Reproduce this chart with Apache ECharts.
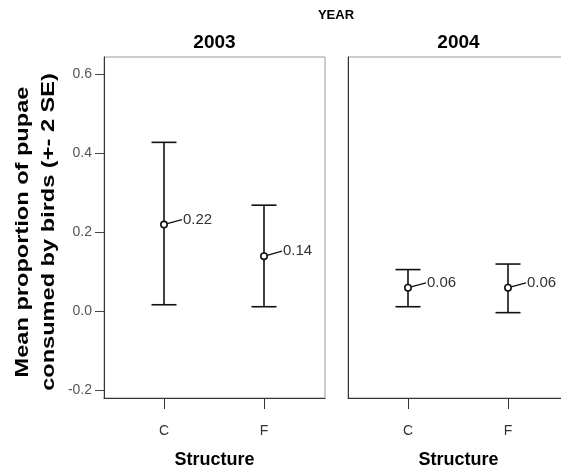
<!DOCTYPE html>
<html>
<head>
<meta charset="utf-8">
<title>Pupae consumed by birds</title>
<script src="https://cdn.jsdelivr.net/npm/echarts@6/dist/echarts.min.js"></script>
<style>
  html, body { margin: 0; padding: 0; background: #fff; }
  #chart { width: 561px; height: 469px; }
</style>
</head>
<body>
<div id="chart"></div>
<script>
// Panels (one per year) and the structure categories on each x axis
const years = ['2003', '2004'];
const structures = ['C', 'F'];

// Mean proportion of pupae consumed, with the +/- 2 SE limits
const means2003 = [0.22, 0.14];
const lower2003 = [0.017, 0.012];
const upper2003 = [0.428, 0.269];

const means2004 = [0.06, 0.06];
const lower2004 = [0.012, -0.003];
const upper2004 = [0.106, 0.120];

// Y axis tick values
const yTicks = [-0.2, 0.0, 0.2, 0.4, 0.6];

const FONT = '"Liberation Sans", Arial, sans-serif';
const INK = '#111';

function rows(means, lower, upper) {
  return structures.map((s, i) => [i + 1, lower[i], upper[i], means[i]]);
}

function renderBar(params, api) {
  const x = api.value(0), lo = api.value(1), hi = api.value(2), m = api.value(3);
  const pLo = api.coord([x, lo]);
  const pHi = api.coord([x, hi]);
  const pM = api.coord([x, m]);
  const halfCap = 12.5, r = 3.2;
  const lx = pM[0] + 18, ly = pM[1] - 5;
  const ang = Math.atan2(ly - pM[1], lx - pM[0]);
  return {
    type: 'group',
    children: [
      { type: 'line', shape: { x1: pLo[0], y1: pLo[1], x2: pHi[0], y2: pHi[1] },
        style: { stroke: INK, lineWidth: 1.6 } },
      { type: 'line', shape: { x1: pHi[0] - halfCap, y1: pHi[1], x2: pHi[0] + halfCap, y2: pHi[1] },
        style: { stroke: INK, lineWidth: 1.6 } },
      { type: 'line', shape: { x1: pLo[0] - halfCap, y1: pLo[1], x2: pLo[0] + halfCap, y2: pLo[1] },
        style: { stroke: INK, lineWidth: 1.6 } },
      { type: 'line', shape: { x1: pM[0] + r * Math.cos(ang), y1: pM[1] + r * Math.sin(ang), x2: lx, y2: ly },
        style: { stroke: INK, lineWidth: 1.3 } },
      { type: 'circle', shape: { cx: pM[0], cy: pM[1], r: r },
        style: { fill: '#fff', stroke: INK, lineWidth: 1.6 } },
      { type: 'text', style: { text: m.toFixed(2), x: lx + 1, y: ly, verticalAlign: 'middle',
        align: 'left', fill: '#333', font: '15px ' + FONT } }
    ]
  };
}

const panelTop = 57, panelHeight = 341, panelWidth = 221;
const panelLefts = [104, 348];

function xAxisFor(i) {
  return {
    type: 'value', gridIndex: i, min: 0.4, max: 2.61,
    axisLine: { show: true, onZero: false, lineStyle: { color: '#333', width: 1 } },
    axisTick: { show: true, length: 11, customValues: [1, 2], lineStyle: { color: '#333', width: 1 } },
    axisLabel: { customValues: [1, 2], margin: 26, color: '#333', fontSize: 14, fontFamily: FONT,
      formatter: v => structures[Math.round(v) - 1] || '' },
    splitLine: { show: false },
    name: 'Structure', nameLocation: 'middle', nameGap: 53,
    nameTextStyle: { fontSize: 18, fontWeight: 'bold', color: '#000', fontFamily: FONT }
  };
}

function yAxisFor(i) {
  return {
    type: 'value', gridIndex: i, min: -0.219, max: 0.644,
    axisLine: { show: true, onZero: false, lineStyle: { color: '#333', width: 1 } },
    axisTick: { show: i === 0, length: 9, customValues: yTicks, lineStyle: { color: '#444' } },
    axisLabel: { show: i === 0, customValues: yTicks, margin: 12, color: '#555', fontSize: 14,
      fontFamily: FONT, formatter: v => v.toFixed(1) },
    splitLine: { show: false }
  };
}

const chart = echarts.init(document.getElementById('chart'), null, { renderer: 'canvas' });

chart.setOption({
  backgroundColor: '#fff',
  animation: false,
  grid: panelLefts.map(l => ({
    left: l, top: panelTop, width: panelWidth, height: panelHeight,
    containLabel: false, outerBoundsMode: 'none',
    show: true, borderColor: '#9a9a9a', borderWidth: 1, backgroundColor: 'transparent'
  })),
  xAxis: [xAxisFor(0), xAxisFor(1)],
  yAxis: [yAxisFor(0), yAxisFor(1)],
  series: [
    { type: 'custom', xAxisIndex: 0, yAxisIndex: 0, renderItem: renderBar,
      data: rows(means2003, lower2003, upper2003) },
    { type: 'custom', xAxisIndex: 1, yAxisIndex: 1, renderItem: renderBar,
      data: rows(means2004, lower2004, upper2004) }
  ],
  graphic: [
    { type: 'text', x: 336, y: 15, style: { text: 'YEAR', align: 'center', verticalAlign: 'middle',
      font: 'bold 13px ' + FONT, fill: '#000' } },
    { type: 'text', x: panelLefts[0] + panelWidth / 2, y: 43, style: { text: years[0], align: 'center',
      verticalAlign: 'middle', font: 'bold 19px ' + FONT, fill: '#000' } },
    { type: 'text', x: panelLefts[1] + panelWidth / 2, y: 43, style: { text: years[1], align: 'center',
      verticalAlign: 'middle', font: 'bold 19px ' + FONT, fill: '#000' } },
    { type: 'text', x: 36, y: 232, rotation: Math.PI / 2, scaleX: 1.31, scaleY: 1,
      style: { text: 'Mean proportion of pupae\nconsumed by birds (+- 2 SE)', align: 'center',
        verticalAlign: 'middle', lineHeight: 26, font: 'bold 18px ' + FONT, fill: '#000' } }
  ]
});
</script>
</body>
</html>
